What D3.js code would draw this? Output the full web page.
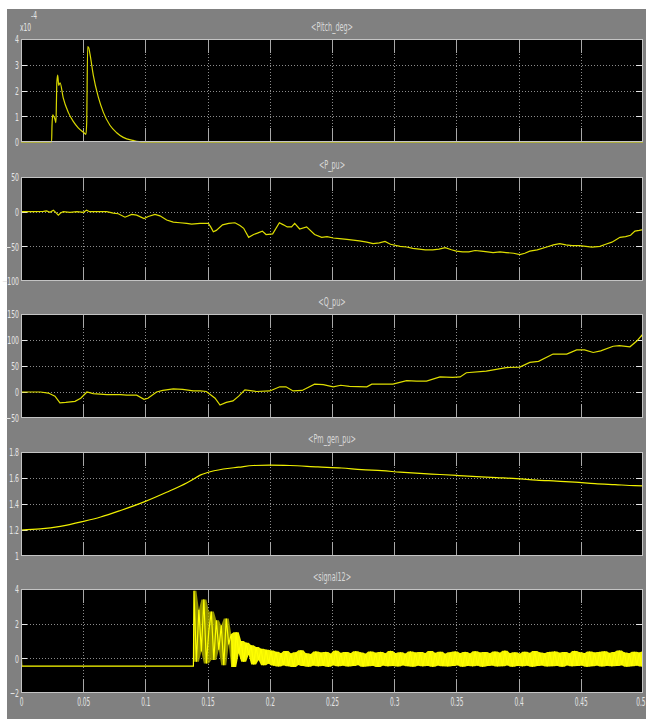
<!DOCTYPE html>
<html><head><meta charset="utf-8">
<script src="https://cdn.jsdelivr.net/npm/d3@7"></script>
<style>
html,body{margin:0;padding:0;background:#fff;}
svg{display:block;}
</style></head><body>
<svg id="scope" width="646" height="719"></svg>
<script>
// ---- signal names and tick labels ----
const panelTitles = ["<Pitch_deg>", "<P_pu>", "<Q_pu>", "<Pm_gen_pu>", "<signal12>"];
const xTicks = [0, 0.05, 0.1, 0.15, 0.2, 0.25, 0.3, 0.35, 0.4, 0.45, 0.5];
const xTickLabels = ["0", "0.05", "0.1", "0.15", "0.2", "0.25", "0.3", "0.35", "0.4", "0.45", "0.5"];
const pitchTicks = [0, 1, 2, 3, 4];
const pTicks = [-100, -50, 0, 50];
const qTicks = [-50, 0, 50, 100, 150];
const pmTicks = [1, 1.2, 1.4, 1.6, 1.8];
const sigTicks = [-2, 0, 2, 4];

// ---- Pitch_deg (x10^-4) ----
const pitchT = [0, 0.0246, 0.0249, 0.0255, 0.0262, 0.0272, 0.0281, 0.0285, 0.0288, 0.0295, 0.0303, 0.0314, 0.034, 0.038, 0.042, 0.046, 0.0501, 0.0522, 0.0528, 0.0536, 0.0545, 0.0555, 0.0581, 0.0621, 0.0662, 0.0715, 0.0769, 0.0822, 0.0903, 0.0983, 0.5];
const pitchV = [0, 0, 0.6, 1.05, 1.0, 0.9, 0.75, 1.6, 2.3, 2.6, 2.2, 2.3, 1.7, 1.15, 0.8, 0.55, 0.38, 0.3, 0.75, 3.7, 3.65, 3.4, 2.6, 1.75, 1.15, 0.65, 0.36, 0.18, 0.06, 0, 0];

// ---- P_pu ----
const pT = [0, 0.010, 0.018, 0.0206, 0.0233, 0.026, 0.0273, 0.030, 0.0318, 0.034, 0.0394, 0.045, 0.050, 0.0528, 0.055, 0.0635, 0.0689, 0.0742, 0.0782, 0.0836, 0.089, 0.093, 0.0989, 0.1023, 0.1077, 0.1117, 0.1171, 0.1224, 0.1278, 0.1332, 0.1372, 0.1439, 0.1506, 0.1525, 0.1546, 0.157, 0.162, 0.167, 0.172, 0.176, 0.179, 0.183, 0.187, 0.190, 0.194, 0.197, 0.2023, 0.2077, 0.211, 0.214, 0.2175, 0.220, 0.224, 0.2296, 0.236, 0.2417, 0.246, 0.251, 0.256, 0.262, 0.267, 0.272, 0.278, 0.283, 0.288, 0.2926, 0.297, 0.3047, 0.310, 0.315, 0.320, 0.325, 0.331, 0.336, 0.341, 0.346, 0.350, 0.355, 0.360, 0.365, 0.370, 0.375, 0.3795, 0.385, 0.390, 0.396, 0.401, 0.405, 0.409, 0.415, 0.4226, 0.428, 0.433, 0.438, 0.443, 0.449, 0.454, 0.459, 0.4654, 0.470, 0.475, 0.4815, 0.486, 0.490, 0.4935, 0.497, 0.500];
const pV = [0, 0, 0.5, 1, -1, 2, 0, -5, -2, 0, -1, 0, -1, 2, 0, 0, 0, -2, -3, -8, -4, -5, -10, -7, -4, -6, -12, -15, -16, -17, -18, -17, -17, -22, -29, -27, -19, -17, -16, -20, -24, -37, -33, -31, -28, -33, -32, -16, -19, -22, -22, -17, -25, -22, -33, -37, -36, -38, -39, -40, -41, -42, -44, -46, -45, -43, -47, -50, -51, -53, -54, -55, -55, -54, -52, -55, -57, -58, -58, -56, -57, -58, -59, -58, -59, -60, -62, -60, -57, -55, -51, -48, -46, -48, -49, -49, -50, -51, -50, -47, -44, -37, -36, -34, -28, -27, -26];

// ---- Q_pu ----
const qT = [0, 0.0155, 0.022, 0.0273, 0.0313, 0.036, 0.0434, 0.048, 0.053, 0.058, 0.069, 0.080, 0.085, 0.093, 0.0989, 0.102, 0.109, 0.114, 0.1224, 0.130, 0.1385, 0.144, 0.149, 0.156, 0.160, 0.165, 0.1704, 0.175, 0.180, 0.1894, 0.200, 0.208, 0.213, 0.2187, 0.226, 0.236, 0.243, 0.251, 0.257, 0.264, 0.278, 0.282, 0.299, 0.310, 0.318, 0.326, 0.3368, 0.347, 0.353, 0.358, 0.374, 0.390, 0.401, 0.409, 0.416, 0.4277, 0.4387, 0.4467, 0.453, 0.460, 0.466, 0.476, 0.481, 0.4895, 0.495, 0.499, 0.500];
const qV = [0, 0, -2, -8, -21, -20, -18, -12, 0, -3, -5, -5, -6, -6, -14, -12, 0, 3, 6, 5, 2, 2, 1, -12, -25, -20, -17, -8, 4, 1, 2, 10, 10, 2, 3, 15, 14, 10, 13, 11, 10, 15, 15, 22, 21, 21, 29, 28, 29, 37, 40, 47, 48, 57, 59, 73, 73, 81, 81, 76, 79, 88, 89, 87, 98, 109, 105];

// ---- Pm_gen_pu ----
const pmT = [0, 0.0155, 0.0316, 0.05, 0.064, 0.08, 0.1, 0.117, 0.1335, 0.1385, 0.144, 0.1493, 0.1626, 0.175, 0.1867, 0.2, 0.2162, 0.2387, 0.2577, 0.2738, 0.29, 0.3047, 0.3207, 0.3368, 0.3515, 0.3663, 0.3824, 0.3984, 0.4145, 0.4305, 0.4453, 0.4614, 0.4775, 0.4936, 0.5];
const pmV = [1.2, 1.208, 1.228, 1.266, 1.30, 1.35, 1.42, 1.49, 1.564, 1.59, 1.622, 1.64, 1.669, 1.683, 1.696, 1.699, 1.696, 1.685, 1.677, 1.664, 1.656, 1.645, 1.635, 1.627, 1.619, 1.611, 1.603, 1.595, 1.584, 1.576, 1.568, 1.557, 1.549, 1.541, 1.539];

// ---- signal12: steady level before the event, then sampled response ----
const sigLeadT = [0, 0.0006, 0.1386];
const sigLeadV = [0.7, -0.45, -0.45];
const sigStart = 0.139;
const sigStep = 0.002;
const sigSamples = [
  3.9, -0.2, 2.8, 0.4, 3.4, -0.3, 1.6, 2.7, -0.1, 2.2,
  0.5, 1.9, -0.4, 2.3, 0.8, 1.4, -0.5, 1.5, 0.3, 1.0,
  -0.2, 0.9, 0.2, 0.75, -0.35, 0.65, -0.1, 0.55, -0.4, 0.5, -0.3,
  0.45, -0.42, 0.38, -0.47, 0.30, -0.40, 0.42, -0.45, 0.28, -0.50,
  0.35, -0.38, 0.46, -0.44, 0.30, -0.48, 0.25, -0.41, 0.40, -0.46,
  0.33, -0.43, 0.37, -0.49, 0.27, -0.40, 0.44, -0.46, 0.31, -0.42,
  0.36, -0.47, 0.29, -0.44, 0.41, -0.39, 0.34, -0.48, 0.26, -0.45,
  0.39, -0.43, 0.32, -0.50, 0.37, -0.41, 0.28, -0.46, 0.43, -0.44,
  0.30, -0.47, 0.35, -0.40, 0.27, -0.45, 0.40, -0.48, 0.33, -0.42,
  0.36, -0.46, 0.29, -0.43, 0.42, -0.49, 0.31, -0.41, 0.38, -0.45,
  0.26, -0.47, 0.35, -0.44, 0.40, -0.40, 0.30, -0.48, 0.37, -0.43,
  0.28, -0.46, 0.41, -0.42, 0.33, -0.49, 0.36, -0.44, 0.29, -0.41,
  0.39, -0.47, 0.32, -0.45, 0.44, -0.40, 0.30, -0.48, 0.35, -0.43,
  0.27, -0.46, 0.38, -0.42, 0.31, -0.49, 0.42, -0.44, 0.34, -0.41,
  0.29, -0.47, 0.37, -0.45, 0.40, -0.43, 0.32, -0.48, 0.36, -0.40,
  0.28, -0.46, 0.43, -0.44, 0.35, -0.42, 0.30, -0.49, 0.39, -0.45,
  0.33, -0.41, 0.37, -0.47, 0.41, -0.43, 0.31, -0.46, 0.36, -0.44,
  0.45, -0.40, 0.34, -0.48, 0.29, -0.45, 0.38, -0.42, 0.33, -0.47,
  0.40
];

// ---- layout ----
const LEFT = 21, RIGHT = 643;
const FONT = "'Liberation Sans Narrow','Arial Narrow','DejaVu Sans Condensed',sans-serif";
const zip = (ts, vs) => ts.map((t, i) => ({t, v: vs[i]}));
const sigNoise = sigSamples.map((v, i) => ({t: sigStart + i * sigStep, v}));

const panels = [
  {title: panelTitles[0], titleY: 27, top: 39, bottom: 142, domain: [0, 4], ticks: pitchTicks, data: zip(pitchT, pitchV), curve: d3.curveMonotoneX, color: "#d8d800"},
  {title: panelTitles[1], titleY: 165, top: 177, bottom: 281, domain: [-100, 50], ticks: pTicks, data: zip(pT, pV), curve: d3.curveLinear, color: "#dede00"},
  {title: panelTitles[2], titleY: 302, top: 314, bottom: 418, domain: [-50, 150], ticks: qTicks, data: zip(qT, qV), curve: d3.curveLinear, color: "#dede00"},
  {title: panelTitles[3], titleY: 439, top: 452, bottom: 556, domain: [1, 1.8], ticks: pmTicks, data: zip(pmT, pmV), curve: d3.curveMonotoneX, color: "#f0f000"},
  {title: panelTitles[4], titleY: 577, top: 589, bottom: 693, domain: [-2, 4], ticks: sigTicks, data: zip(sigLeadT, sigLeadV).concat(sigNoise), curve: d3.curveLinear, color: "#ffff00", band: sigNoise}
];

const svg = d3.select("#scope");
svg.append("rect").attr("x", 7).attr("y", 9).attr("width", 639).attr("height", 710).attr("fill", "#808080");

const x = d3.scaleLinear().domain([0, 0.5]).range([LEFT, RIGHT]);

panels.forEach((p, k) => {
  const y = d3.scaleLinear().domain(p.domain).range([p.bottom, p.top]);
  const g = svg.append("g");

  // plot area
  g.append("rect").attr("x", LEFT).attr("y", p.top)
    .attr("width", RIGHT - LEFT).attr("height", p.bottom - p.top).attr("fill", "#000");

  // grid: dotted lines plus solid tick stubs at the frame
  const vx = xTicks.filter(t => t > 0 && t < 0.5);
  g.selectAll(".vgrid").data(vx).join("line")
    .attr("x1", d => Math.round(x(d)) + 0.5).attr("x2", d => Math.round(x(d)) + 0.5)
    .attr("y1", p.top).attr("y2", p.bottom)
    .attr("stroke", "#8c8c8c").attr("stroke-dasharray", "1,2");
  g.selectAll(".vstubT").data(vx).join("line")
    .attr("x1", d => Math.round(x(d)) + 0.5).attr("x2", d => Math.round(x(d)) + 0.5)
    .attr("y1", p.top).attr("y2", p.top + 14).attr("stroke", "#a8a8a8");
  g.selectAll(".vstubB").data(vx).join("line")
    .attr("x1", d => Math.round(x(d)) + 0.5).attr("x2", d => Math.round(x(d)) + 0.5)
    .attr("y1", p.bottom - 14).attr("y2", p.bottom).attr("stroke", "#a8a8a8");

  const hy = p.ticks.filter(t => t > p.domain[0] && t < p.domain[1]);
  g.selectAll(".hgrid").data(hy).join("line")
    .attr("x1", LEFT).attr("x2", RIGHT)
    .attr("y1", d => Math.round(y(d)) + 0.5).attr("y2", d => Math.round(y(d)) + 0.5)
    .attr("stroke", "#8c8c8c").attr("stroke-dasharray", "1,2");
  g.selectAll(".hstubL").data(hy).join("line")
    .attr("x1", LEFT).attr("x2", LEFT + 6)
    .attr("y1", d => Math.round(y(d)) + 0.5).attr("y2", d => Math.round(y(d)) + 0.5)
    .attr("stroke", "#e8e8e8");
  g.selectAll(".hstubR").data(hy).join("line")
    .attr("x1", RIGHT - 7).attr("x2", RIGHT)
    .attr("y1", d => Math.round(y(d)) + 0.5).attr("y2", d => Math.round(y(d)) + 0.5)
    .attr("stroke", "#e8e8e8");

  // traces
  const clipId = "clip" + k;
  svg.append("clipPath").attr("id", clipId).append("rect")
    .attr("x", LEFT).attr("y", p.top - 1).attr("width", RIGHT - LEFT).attr("height", p.bottom - p.top + 2);
  const traces = g.append("g").attr("clip-path", `url(#${clipId})`);

  if (p.band) {
    // envelope of neighbouring samples gives the dense trace its body:
    // dim during the first oscillations, solid once it settles
    const env = p.band.map((d, i, a) => {
      const w = a.slice(Math.max(0, i - 1), i + 2).map(e => e.v);
      return {t: d.t, lo: d3.min(w), hi: d3.max(w)};
    });
    const envArea = d3.area().x(d => x(d.t)).y0(d => y(d.lo)).y1(d => y(d.hi));
    traces.append("path").datum(env.filter(d => d.t <= 0.171))
      .attr("d", envArea).attr("fill", "#b4b400").attr("fill-opacity", 0.8);
    traces.append("path").datum(env.filter(d => d.t >= 0.169))
      .attr("d", envArea).attr("fill", "#f4f400");
  }
  traces.append("path").datum(p.data)
    .attr("d", d3.line().x(d => x(d.t)).y(d => y(d.v)).curve(p.curve))
    .attr("fill", "none").attr("stroke", p.color).attr("stroke-width", 1.2);

  // frame
  g.append("rect").attr("x", LEFT + 0.5).attr("y", p.top + 0.5)
    .attr("width", RIGHT - LEFT - 1).attr("height", p.bottom - p.top - 1)
    .attr("fill", "none").attr("stroke", "#c4c4c4");

  // y tick labels
  const ya = svg.append("g").attr("transform", `translate(${LEFT},0)`)
    .call(d3.axisLeft(y).tickValues(p.ticks).tickSize(0).tickPadding(0).tickFormat(d3.format("~g")));
  ya.select(".domain").remove();
  ya.selectAll("text")
    .attr("x", -2 / 0.62).attr("dy", "0.35em")
    .attr("transform", "scale(0.62,1)")
    .attr("fill", "#e6e6e6").style("font-family", FONT).style("font-size", "11px");

  // title
  svg.append("text").attr("transform", `translate(${(LEFT + RIGHT) / 2},${p.titleY}) scale(0.6,1)`)
    .attr("text-anchor", "middle").attr("dy", "0.35em")
    .attr("fill", "#d8d8d8").style("font-family", FONT).style("font-size", "12px")
    .text(p.title);

  // x tick labels on the last panel only
  if (k === panels.length - 1) {
    const xa = svg.append("g").attr("transform", `translate(0,${p.bottom})`)
      .call(d3.axisBottom(x).tickValues(xTicks).tickSize(0).tickPadding(0)
        .tickFormat((d, i) => xTickLabels[i]));
    xa.select(".domain").remove();
    xa.selectAll("text")
      .attr("y", 4).attr("dy", "0.71em")
      .attr("transform", "scale(0.5,1)")
      .attr("fill", "#e6e6e6").style("font-family", FONT).style("font-size", "13px");
    // the last label sits against the window edge, so it is right-aligned there
    xa.selectAll(".tick").filter(d => d === 0.5).select("text")
      .attr("text-anchor", "end").attr("x", 2 / 0.5);
  }
});

// exponent marker on the pitch axis
svg.append("text").attr("transform", "translate(20,31) scale(0.6,1)")
  .attr("fill", "#e6e6e6").style("font-family", FONT).style("font-size", "11px").text("x10");
svg.append("text").attr("transform", "translate(31,19) scale(0.6,1)")
  .attr("fill", "#e6e6e6").style("font-family", FONT).style("font-size", "11px").text("-4");
</script>
</body></html>
